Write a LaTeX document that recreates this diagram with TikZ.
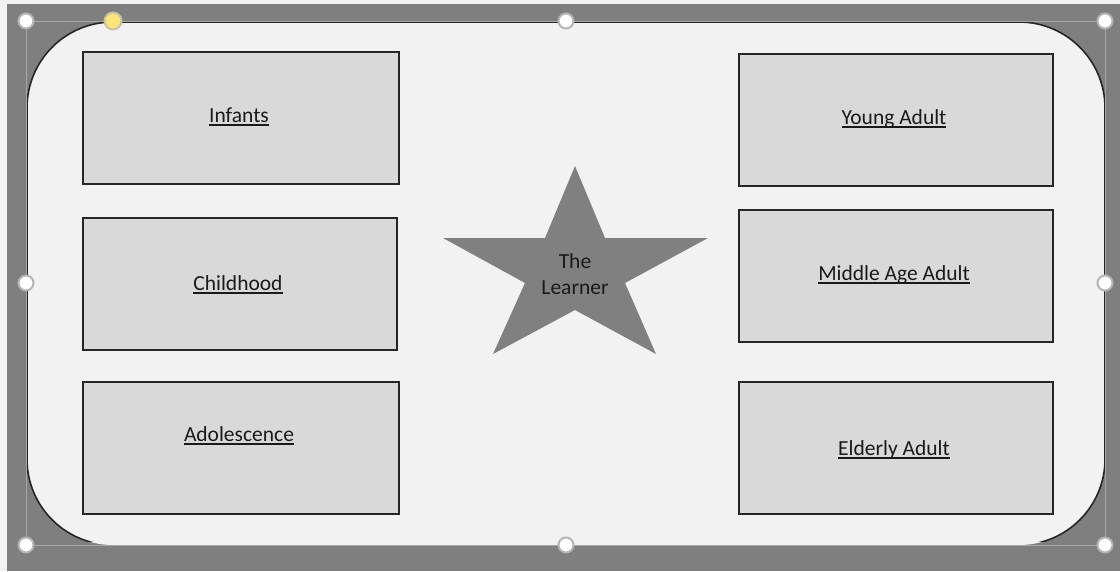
\documentclass[tikz,border=0pt]{standalone}
\usepackage{fontspec}
\setmainfont{Carlito}
\definecolor{outerbg}{HTML}{F2F2F2}
\definecolor{darkbg}{HTML}{7F7F7F}
\definecolor{panel}{HTML}{F2F2F2}
\definecolor{boxfill}{HTML}{D9D9D9}
\definecolor{boxline}{HTML}{262626}
\definecolor{starfill}{HTML}{808080}
\definecolor{txt}{HTML}{1A1A1A}
\definecolor{selline}{HTML}{A6A6A6}
\definecolor{handleglow}{HTML}{B5B5B5}
\definecolor{yellowh}{HTML}{FDE47C}
\definecolor{yellowglow}{HTML}{C8C2A0}
\newcommand\myul[1]{\setbox0\hbox{#1}\rlap{\rule[-3.6pt]{\wd0}{1.5pt}}\box0}
\tikzset{
  stagebox/.style={draw=boxline, line width=1.8pt, fill=boxfill, rectangle, inner sep=0pt, anchor=north west},
  stagetext/.style={text=txt, font=\fontsize{21.5}{26}\selectfont, inner sep=0pt, align=center},
  handle/.style={circle, fill=white, draw=handleglow, line width=2pt, minimum size=15pt, inner sep=0pt},
  yhandle/.style={circle, fill=yellowh, draw=yellowglow, line width=2pt, minimum size=17pt, inner sep=0pt},
}
\begin{document}
\begin{tikzpicture}[x=1pt,y=-1pt]
\useasboundingbox (0,0) rectangle (1120,571);
% background
\fill[outerbg] (0,0) rectangle (1120,571);
\fill[darkbg] (7,4) rectangle (1120,571);
% rounded panel
\fill[panel, rounded corners=86pt] (27,22) rectangle (1105,545);
\begin{scope}
  \clip (0,0) rectangle (1120,541);
  \draw[boxline, line width=1.6pt, rounded corners=86pt] (27,22) rectangle (1105,545);
\end{scope}
% selection frame
\draw[selline, line width=1pt] (26,21) rectangle (1105,545);
% boxes
\node[stagebox, minimum width=316pt, minimum height=132pt] (b1) at (82,51) {};
\node[stagebox, minimum width=314pt, minimum height=132pt] (b2) at (82,217) {};
\node[stagebox, minimum width=316pt, minimum height=132pt] (b3) at (82,381) {};
\node[stagebox, minimum width=314pt, minimum height=132pt] (b4) at (738,53) {};
\node[stagebox, minimum width=314pt, minimum height=132pt] (b5) at (738,209) {};
\node[stagebox, minimum width=314pt, minimum height=132pt] (b6) at (738,381) {};
\node[stagetext, anchor=base] (t1) at (239,122) {\myul{Infants}};
\node[stagetext, anchor=base] (t2) at (238,290) {\myul{Childhood}};
\node[stagetext, anchor=base] (t3) at (239,441) {\myul{Adolescence}};
\node[stagetext, anchor=base] (t4) at (894,124) {\myul{Young Adult}};
\node[stagetext, anchor=base] (t5) at (894,280) {\myul{Middle Age Adult}};
\node[stagetext, anchor=base] (t6) at (894,455) {\myul{Elderly Adult}};
% star
\fill[starfill] (575,166) -- (605,238) -- (708,238) -- (625,283) -- (656,354)
  -- (575,310) -- (493,354) -- (525,283) -- (443,238) -- (545,238) -- cycle;
\node[stagetext] (star) at (575,274) {The\\Learner};
% handles
\node[handle] (h1) at (26,21) {};
\node[handle] (h2) at (566,21) {};
\node[handle] (h3) at (1105,21) {};
\node[handle] (h4) at (26,283) {};
\node[handle] (h5) at (1105,283) {};
\node[handle] (h6) at (26,545) {};
\node[handle] (h7) at (566,545) {};
\node[handle] (h8) at (1105,545) {};
\node[yhandle] (hy) at (113,21) {};
\end{tikzpicture}
\end{document}
